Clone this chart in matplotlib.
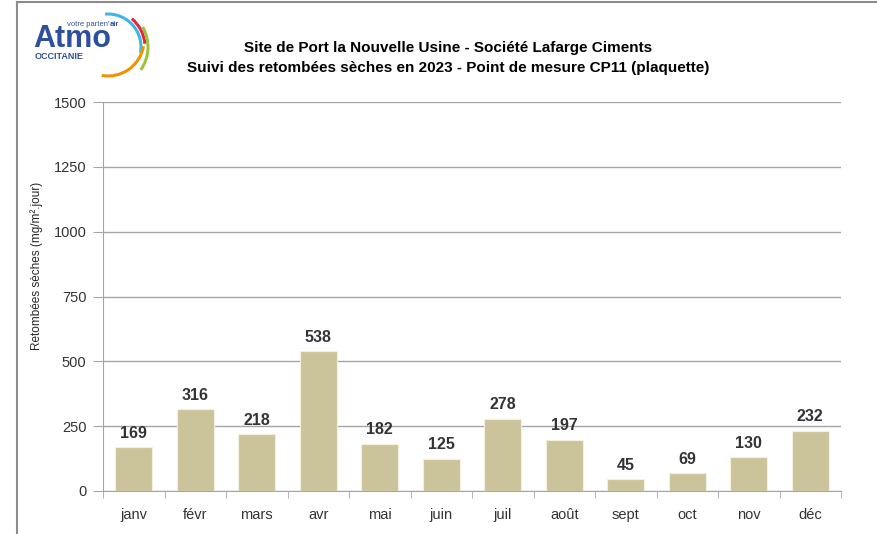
import matplotlib
matplotlib.use('Agg')
import matplotlib.pyplot as plt
from matplotlib.patches import Arc
from matplotlib.lines import Line2D

plt.rcParams['font.family'] = ['Liberation Sans', 'DejaVu Sans']

# Données
mois = ['janv', 'févr', 'mars', 'avr', 'mai', 'juin', 'juil', 'août', 'sept', 'oct', 'nov', 'déc']
valeurs = [169, 316, 218, 538, 182, 125, 278, 197, 45, 69, 130, 232]
graduations = [0, 250, 500, 750, 1000, 1250, 1500]

titre = ("Site de Port la Nouvelle Usine - Société Lafarge Ciments\n"
         "Suivi des retombées sèches en 2023 - Point de mesure CP11 (plaquette)")
label_y = 'Retombées sèches (mg/m².jour)'

couleur_barre = '#CBC49B'
couleur_grille = '#A6A6A6'
couleur_texte = '#333333'

W, H = 877, 534
fig = plt.figure(figsize=(W / 100, H / 100), dpi=100, facecolor='white')

# Cadre (haut et gauche)
fig.add_artist(Line2D([17 / W, 1], [1 - 2 / H, 1 - 2 / H], color='#8C8C8C', lw=1.5))
fig.add_artist(Line2D([17 / W, 17 / W], [0, 1 - 2 / H], color='#8C8C8C', lw=1.5))

# Graphique
ax = fig.add_axes([103 / W, 1 - 491 / H, (841 - 103) / W, (491 - 102) / H])
x = list(range(len(mois)))
ax.bar(x, valeurs, width=0.6, color=couleur_barre, edgecolor='#F3F0E0', linewidth=0.8, zorder=3)
for xi, v in zip(x, valeurs):
    ax.text(xi, v + 25, str(v), ha='center', va='bottom', fontsize=11.5,
            fontweight='bold', color=couleur_texte, zorder=4)

ax.set_xlim(-0.5, len(mois) - 0.5)
ax.set_ylim(0, 1500)
ax.set_yticks(graduations)
ax.set_yticklabels([str(g) for g in graduations], fontsize=10.5, color=couleur_texte)
ax.yaxis.grid(True, color=couleur_grille, lw=1, zorder=0)
ax.set_axisbelow(True)

ax.set_xticks(x)
ax.set_xticklabels(mois, fontsize=10.5, color=couleur_texte)
ax.tick_params(axis='x', length=0, pad=12)
# petites graduations entre les catégories
ax.set_xticks([i - 0.5 for i in range(len(mois) + 1)], minor=True)
ax.tick_params(axis='x', which='minor', length=5, color=couleur_grille, direction='out')
ax.tick_params(axis='y', length=7, color=couleur_grille, direction='out', pad=5)

for s in ['top', 'right']:
    ax.spines[s].set_visible(False)
ax.spines['left'].set_color(couleur_grille)
ax.spines['bottom'].set_color(couleur_grille)

fig.text(37 / W, 1 - 266 / H, label_y, rotation=90, ha='center', va='center',
         fontsize=8.5, color='#262626')

fig.text(448 / W, 1 - 58 / H, titre, ha='center', va='center', fontsize=11,
         fontweight='bold', color='black', linespacing=1.55)

# Logo Atmo
axl = fig.add_axes([20 / W, 1 - 80 / H, 140 / W, 78 / H])
axl.set_xlim(0, 140)
axl.set_ylim(0, 78)
axl.axis('off')
bleu = '#2E4F9E'
axl.text(13, 33, 'Atmo', fontsize=22, fontweight='bold', color=bleu, va='baseline')
t1 = axl.text(47, 54, "votre parten'", fontsize=5.5, color=bleu, va='baseline')
axl.annotate('air', xy=(1, 0), xycoords=t1, fontsize=5.5, fontweight='bold',
             color=bleu, va='bottom', ha='left')
axl.text(15, 21, 'OCCITANIE', fontsize=6.5, fontweight='bold', color=bleu, va='baseline')
arcs = [
    ((88, 33), 33, -10, 95, '#3DB5E6'),
    ((88, 33), 37, 5, 50, '#E2293B'),
    ((88, 33), 40, -35, 30, '#9BC33C'),
    ((88, 40), 36, -100, -10, '#F39200'),
]
for c0, r, a1, a2, c in arcs:
    axl.add_patch(Arc(c0, 2 * r, 2 * r, theta1=a1, theta2=a2, color=c, lw=2.2))

fig.savefig('out.png', dpi=100, facecolor='white')
